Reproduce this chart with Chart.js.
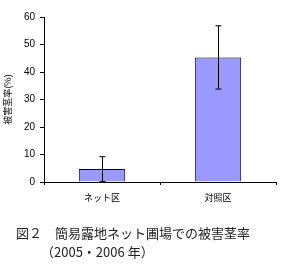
<!DOCTYPE html>
<html>
<head>
<meta charset="utf-8">
<script src="https://cdn.jsdelivr.net/npm/chart.js@4"></script>
<style>
  body { margin: 0; background: #fff; }
  #wrap { position: relative; width: 288px; height: 272px; }
  #myChart { position: absolute; left: 0; top: 0; }
  .cap { position: absolute; font-family: "Noto Sans CJK JP", sans-serif; font-size: 13px; color: #222; white-space: pre; line-height: 1; }
</style>
</head>
<body>
<div id="wrap">
  <canvas id="myChart" width="288" height="272"></canvas>
  <div class="cap" style="left:16px; top:226px;">図２　簡易露地ネット圃場での被害茎率</div>
  <div class="cap" style="left:41px; top:245px;">（2005・2006 年）</div>
</div>
<script>
const categories = ['ネット区', '対照区'];
const damageRate = [4.7, 45.3];
const errors = [4.5, 11.5];
const yTicks = [0, 10, 20, 30, 40, 50, 60];

// error bars
const errorBars = {
  id: 'errorBars',
  afterDatasetsDraw(chart) {
    const ctx = chart.ctx;
    const y = chart.scales.y;
    const meta = chart.getDatasetMeta(0);
    ctx.save();
    ctx.strokeStyle = '#000';
    ctx.lineWidth = 1;
    meta.data.forEach((bar, i) => {
      const x = Math.round(bar.x) + 0.5;
      const top = y.getPixelForValue(damageRate[i] + errors[i]);
      const bot = y.getPixelForValue(damageRate[i] - errors[i]);
      ctx.beginPath();
      ctx.moveTo(x, top); ctx.lineTo(x, bot);
      ctx.moveTo(x - 3, top); ctx.lineTo(x + 3, top);
      ctx.moveTo(x - 3, bot); ctx.lineTo(x + 3, bot);
      ctx.stroke();
    });
    ctx.restore();
  }
};

var ctx = document.getElementById('myChart').getContext('2d');
var myChart = new Chart(ctx, {
  type: 'bar',
  data: {
    labels: categories,
    datasets: [{
      data: damageRate,
      backgroundColor: '#9999ff',
      borderColor: '#000',
      borderWidth: 1,
      barPercentage: 0.4,
      categoryPercentage: 1
    }]
  },
  options: {
    responsive: false,
    animation: false,
    layout: { padding: { left: 2, right: 12, top: 17, bottom: 68 } },
    plugins: { legend: { display: false }, tooltip: { enabled: false } },
    scales: {
      x: {
        grid: { display: true, drawOnChartArea: false, color: '#000', tickLength: 3, offset: true },
        border: { color: '#000', width: 1 },
        ticks: { color: '#000', font: { family: 'Noto Sans CJK JP', size: 9 }, padding: 7 },
        afterFit(s) { s.height = 22; }
      },
      y: {
        min: 0, max: 60,
        afterBuildTicks(s) { s.ticks = yTicks.map(v => ({ value: v })); },
        grid: { display: true, drawOnChartArea: false, color: '#000', tickLength: 4 },
        border: { color: '#000', width: 1 },
        ticks: { color: '#000', font: { family: 'Liberation Sans', size: 10 }, padding: 5 },
        title: { display: true, text: '被害茎率(%)', color: '#000', font: { family: 'Noto Sans CJK JP', size: 9 }, padding: 0 },
        afterFit(s) { s.width = 42; }
      }
    }
  },
  plugins: [errorBars]
});
</script>
</body>
</html>
